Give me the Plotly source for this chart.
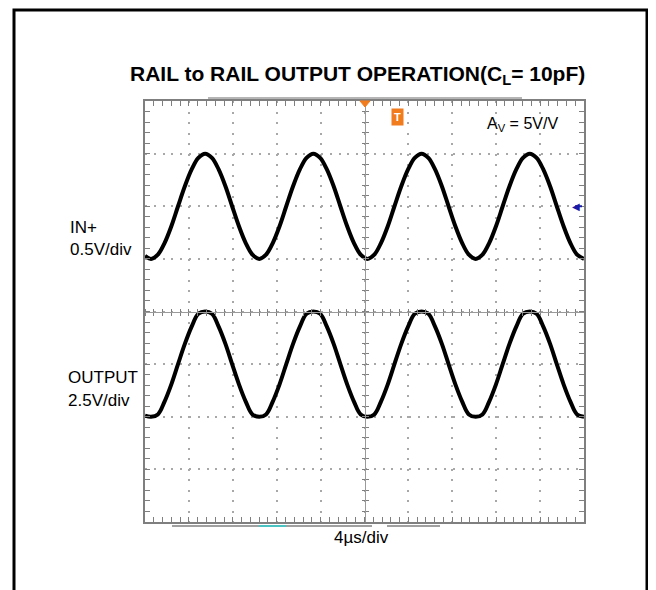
import plotly.graph_objects as go

# ---- data ----
# time in microseconds (4 us/div, 10 div across, trigger at 0)
t_wave = [-20.0, -19.45, -18.83, -18.22, -17.60, -16.99, -16.37, -15.75, -15.14,
          -14.52, -13.90, -13.29, -12.67, -12.06, -11.44, -10.82, -10.21,
          -9.59, -8.97, -8.36, -7.74, -7.13, -6.51, -5.89, -5.28,
          -4.66, -4.04, -3.43, -2.81, -2.20, -1.58, -0.96, -0.35,
          0.27, 0.89, 1.50, 2.12, 2.73, 3.35, 3.97, 4.58,
          5.20, 5.82, 6.43, 7.05, 7.66, 8.28, 8.90, 9.51,
          10.13, 10.75, 11.36, 11.98, 12.59, 13.21, 13.83, 14.44,
          15.06, 15.68, 16.29, 16.91, 17.52, 18.14, 18.76, 19.37, 20.0]
# IN+ in volts (0.5 V/div)
v_in = [-0.47, -0.50, -0.46, -0.35, -0.19, 0.00, 0.19, 0.35, 0.46,
        0.50, 0.46, 0.35, 0.19, 0.00, -0.19, -0.35, -0.46,
        -0.50, -0.46, -0.35, -0.19, 0.00, 0.19, 0.35, 0.46,
        0.50, 0.46, 0.35, 0.19, 0.00, -0.19, -0.35, -0.46,
        -0.50, -0.46, -0.35, -0.19, 0.00, 0.19, 0.35, 0.46,
        0.50, 0.46, 0.35, 0.19, 0.00, -0.19, -0.35, -0.46,
        -0.50, -0.46, -0.35, -0.19, 0.00, 0.19, 0.35, 0.46,
        0.50, 0.46, 0.35, 0.19, 0.00, -0.19, -0.35, -0.46, -0.50]
# OUTPUT in volts (2.5 V/div), slightly flattened at the rails
v_out = [-2.45, -2.50, -2.39, -1.78, -0.96, 0.00, 0.96, 1.78, 2.39,
         2.50, 2.39, 1.78, 0.96, 0.00, -0.96, -1.78, -2.39,
         -2.50, -2.39, -1.78, -0.96, 0.00, 0.96, 1.78, 2.39,
         2.50, 2.39, 1.78, 0.96, 0.00, -0.96, -1.78, -2.39,
         -2.50, -2.39, -1.78, -0.96, 0.00, 0.96, 1.78, 2.39,
         2.50, 2.39, 1.78, 0.96, 0.00, -0.96, -1.78, -2.39,
         -2.50, -2.39, -1.78, -0.96, 0.00, 0.96, 1.78, 2.39,
         2.50, 2.39, 1.78, 0.96, 0.00, -0.96, -1.78, -2.39, -2.50]

title_text = "<b>RAIL to RAIL OUTPUT OPERATION(C<sub>L</sub>= 10pF)</b>"
x_label = "4µs/div"
ch1_name, ch1_scale = "IN+", "0.5V/div"
ch2_name, ch2_scale = "OUTPUT", "2.5V/div"
gain_text = "A<sub>V</sub> = 5V/V"

# page has an 8px body margin; coordinates below are screen pixels
OFF = 8
W, H = 648, 582
SL, SR, ST, SB = 145, 584, 101, 522          # plot area on screen
ML, MT = SL - OFF, ST - OFF
MR, MB = W - (SR - OFF), H - (SB - OFF)
PW, PH = SR - SL, SB - ST


def px(x):
    return (x - SL) / PW


def py(y):
    return (SB - y) / PH


FRAME = "#7f7f7f"
GRID = "#a8a8a8"
FONT = "Liberation Sans, Arial, sans-serif"
ORANGE = "#f07c1e"

fig = go.Figure()
fig.add_trace(go.Scatter(x=t_wave, y=v_in, mode="lines", xaxis="x", yaxis="y",
                         line=dict(color="black", width=4, shape="spline"),
                         showlegend=False, hoverinfo="skip"))
fig.add_trace(go.Scatter(x=t_wave, y=v_out, mode="lines", xaxis="x", yaxis="y2",
                         line=dict(color="black", width=4, shape="spline"),
                         showlegend=False, hoverinfo="skip"))

axis_common = dict(showticklabels=False, zeroline=False, fixedrange=True)

fig.update_layout(
    width=W, height=H,
    margin=dict(l=ML, r=MR, t=MT, b=MB),
    paper_bgcolor="white", plot_bgcolor="white",
    font=dict(family=FONT, color="black"),
    xaxis=dict(range=[-20, 20], tick0=0, dtick=4, domain=[0, 1],
               showline=True, linecolor=FRAME, linewidth=2, mirror="allticks",
               ticks="inside", ticklen=5, tickcolor=FRAME, tickwidth=1,
               minor=dict(dtick=0.8, ticks="inside", ticklen=3, tickcolor=FRAME, showgrid=False),
               showgrid=True, gridcolor=GRID, gridwidth=2, griddash="2px,8.5px",
               **axis_common),
    yaxis=dict(range=[-3, 1], tick0=0, dtick=0.5,
               showline=True, linecolor=FRAME, linewidth=2, mirror="allticks",
               ticks="inside", ticklen=5, tickcolor=FRAME, tickwidth=1,
               minor=dict(dtick=0.1, ticks="inside", ticklen=3, tickcolor=FRAME, showgrid=False),
               showgrid=True, gridcolor=GRID, gridwidth=2, griddash="2px,6.8px",
               **axis_common),
    yaxis2=dict(range=[-7.5, 12.5], overlaying="y", showgrid=False, showline=False,
                ticks="", **axis_common),
    # centre graticule lines with ticks on both sides
    xaxis3=dict(range=[-20, 20], overlaying="x", anchor="free", position=0.5,
                showline=True, linecolor="#9a9a9a", linewidth=1, showgrid=False,
                ticks="outside", tick0=0, dtick=0.8, ticklen=3, tickcolor=FRAME,
                **axis_common),
    xaxis4=dict(range=[-20, 20], overlaying="x", anchor="free", position=0.5,
                showline=False, showgrid=False, side="top",
                ticks="outside", tick0=0, dtick=0.8, ticklen=3, tickcolor=FRAME,
                **axis_common),
    yaxis3=dict(range=[-3, 1], overlaying="y", anchor="free", position=0.5,
                showline=True, linecolor="#9a9a9a", linewidth=1, showgrid=False,
                ticks="outside", tick0=0, dtick=0.1, ticklen=3, tickcolor=FRAME,
                **axis_common),
    yaxis4=dict(range=[-3, 1], overlaying="y", anchor="free", position=0.5,
                showline=False, showgrid=False, side="right",
                ticks="outside", tick0=0, dtick=0.1, ticklen=3, tickcolor=FRAME,
                **axis_common),
)

# invisible traces so the overlay axes render
for xa, ya in (("x3", "y"), ("x4", "y"), ("x", "y3"), ("x", "y4")):
    fig.add_trace(go.Scatter(x=[None], y=[None], xaxis=xa, yaxis=ya,
                             showlegend=False, hoverinfo="skip"))

shapes = [
    # outer black frame
    dict(type="rect", xref="paper", yref="paper", x0=px(14), x1=px(647),
         y0=py(620), y1=py(10), line=dict(color="black", width=3), layer="above"),
    # scope status bars
    dict(type="line", xref="paper", yref="paper", x0=px(208), x1=px(522),
         y0=py(98), y1=py(98), line=dict(color="#b5b5b5", width=2)),
    dict(type="line", xref="paper", yref="paper", x0=px(172), x1=px(372),
         y0=py(526), y1=py(526), line=dict(color="#a0a0a0", width=2)),
    dict(type="line", xref="paper", yref="paper", x0=px(259), x1=px(286),
         y0=py(526), y1=py(526), line=dict(color="#4cc3c3", width=2)),
    dict(type="line", xref="paper", yref="paper", x0=px(387), x1=px(440),
         y0=py(526), y1=py(526), line=dict(color="#a0a0a0", width=2)),
    # channel 1 ground marker tail (right)
    dict(type="line", xref="paper", yref="y", x0=px(575), x1=px(582),
         y0=0, y1=0, line=dict(color="#1a1aa6", width=2)),
    # trigger position marker (orange triangle at top centre)
    dict(type="path", xref="paper", yref="paper",
         path=f"M {px(360)},{py(101)} L {px(370)},{py(101)} L {px(365)},{py(107)} Z",
         fillcolor=ORANGE, line=dict(color=ORANGE, width=1), layer="above"),
]
fig.update_layout(shapes=shapes)

ann = [
    dict(text=title_text, xref="paper", yref="paper", x=px(357), y=py(75),
         xanchor="center", yanchor="middle", showarrow=False,
         font=dict(size=21, family=FONT, color="black")),
    dict(text=gain_text, xref="paper", yref="paper", x=px(485), y=py(125),
         xanchor="left", yanchor="middle", showarrow=False, font=dict(size=16)),
    dict(text=ch1_name, xref="paper", yref="paper", x=px(68), y=py(227),
         xanchor="left", yanchor="middle", showarrow=False, font=dict(size=17)),
    dict(text=ch1_scale, xref="paper", yref="paper", x=px(68), y=py(250),
         xanchor="left", yanchor="middle", showarrow=False, font=dict(size=17)),
    dict(text=ch2_name, xref="paper", yref="paper", x=px(66), y=py(377),
         xanchor="left", yanchor="middle", showarrow=False, font=dict(size=17)),
    dict(text=ch2_scale, xref="paper", yref="paper", x=px(66), y=py(401),
         xanchor="left", yanchor="middle", showarrow=False, font=dict(size=17)),
    dict(text=x_label, xref="paper", yref="paper", x=px(361), y=py(537),
         xanchor="center", yanchor="middle", showarrow=False, font=dict(size=17)),
    # trigger level badge
    dict(text="<b>T</b>", xref="paper", yref="paper", x=px(397), y=py(117),
         xanchor="center", yanchor="middle", showarrow=False, bgcolor=ORANGE,
         borderpad=2, font=dict(size=11, color="white")),
    # channel 1 ground marker head (right)
    dict(text="◀", xref="paper", yref="y", x=px(576), y=0, xanchor="center",
         yanchor="middle", showarrow=False, font=dict(size=10, color="#1a1aa6")),
]
fig.update_layout(annotations=ann)

fig.write_html("out.html")
